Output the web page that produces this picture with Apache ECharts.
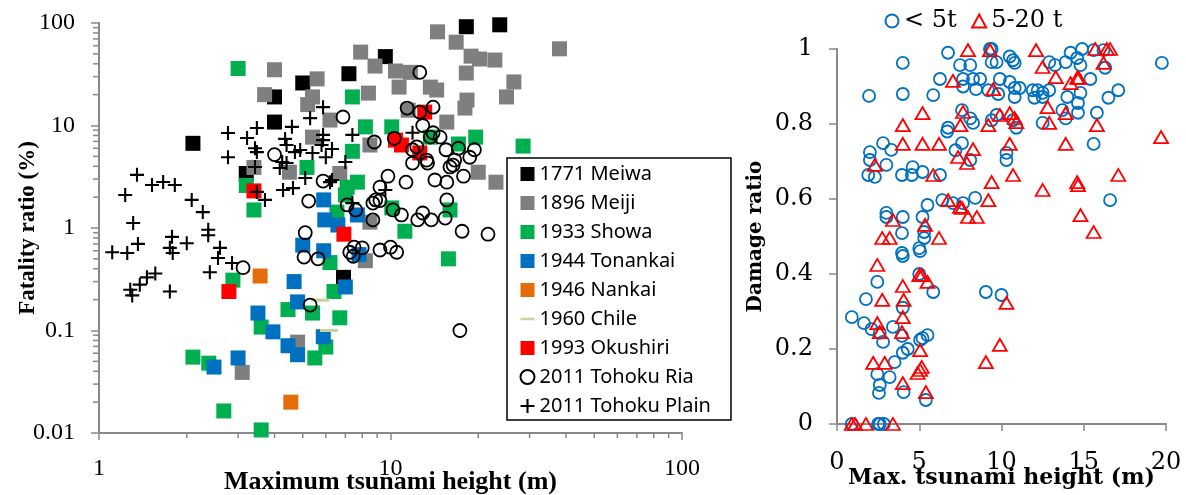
<!DOCTYPE html>
<html>
<head>
<meta charset="utf-8">
<script src="https://cdn.jsdelivr.net/npm/echarts@6/dist/echarts.min.js"></script>
<style>
  html, body { margin: 0; padding: 0; background: #fff; }
  #chart { width: 1186px; height: 495px; }
</style>
</head>
<body>
<div id="chart"></div>
<script>
// left panel: [max tsunami height (m), fatality ratio (%)]
const meiwa = [[2.1, 6.7], [3.2, 3.4], [4.0, 19], [4.0, 10.8], [5.0, 26], [7.2, 32], [9.6, 47], [18.2, 92], [23.7, 96], [6.9, 0.33]]
const meiji = [[3.1, 0.039], [3.4, 3.9], [3.7, 20], [4.0, 35], [4.5, 3.5], [4.8, 0.077], [5.2, 16], [5.4, 19], [5.4, 7.7], [5.6, 28.5],
  [6.2, 11.3], [6.7, 3.4], [7.9, 52], [8.2, 0.48], [8.4, 20.7], [8.5, 6.45], [8.5, 1.14], [8.85, 38], [10.4, 34], [10.7, 23.7],
  [11.5, 14.1], [11.7, 33], [13.7, 23.7], [14.4, 22.2], [14.5, 82], [15.6, 10.8], [16.8, 65], [18, 14.8], [18.2, 32.5], [18.3, 17.7],
  [18.9, 47.5], [20, 3.5], [20.2, 44.5], [22.8, 43.5], [23, 2.8], [25, 19], [26.5, 26.6], [38, 56]]
const showa = [[2.1, 0.055], [2.38, 0.048], [2.68, 0.0164], [2.88, 0.31], [3.0, 36], [3.2, 2.6], [3.4, 1.5], [3.6, 0.108], [3.6, 0.0107],
  [4.45, 0.16], [5.17, 3.9], [5.4, 0.148], [5.5, 0.054], [6.0, 0.069], [6.2, 0.46], [6.4, 0.24], [6.55, 1.43], [6.7, 0.133], [7.0, 2.1],
  [7.1, 2.5], [7.4, 5.6], [7.4, 19], [7.7, 2.8], [8.2, 9.7], [10.1, 9.7], [10.1, 1.57], [11.2, 0.93], [13.7, 7.7], [15.8, 0.5],
  [16, 1.5], [17.1, 6.6], [19.6, 7.7], [28.5, 6.3]]
const tonankai = [[2.48, 0.044], [3.0, 0.054], [3.51, 0.148], [3.95, 0.097], [4.45, 0.071], [4.67, 0.30], [4.8, 0.19], [4.8, 0.058],
  [5.0, 0.68], [5.88, 0.087], [5.9, 0.6], [5.9, 1.88], [5.95, 1.2], [6.6, 1.07], [7.0, 0.266], [7.7, 1.34], [7.8, 0.55]]
const nankai = [[3.57, 0.34], [4.55, 0.02]]
const chile = [[5.74, 0.198], [6.15, 0.1]]
const okushiri = [[2.79, 0.24], [3.4, 2.3], [6.92, 0.87], [10.4, 7.2], [10.9, 6.45], [12.6, 5.4], [13.1, 13.5]]
const tohokuRia = [[3.12, 0.41], [4.0, 5.2], [5.05, 0.52], [5.1, 0.9], [5.24, 1.83], [5.3, 0.177], [5.64, 0.5], [5.87, 2.87], [6.87, 12.1],
  [7.25, 0.58], [7.5, 0.65], [8.0, 0.64], [7.45, 0.53], [7.1, 1.68], [7.6, 1.5], [8.7, 1.2], [8.8, 6.9], [8.7, 1.75], [8.9, 1.88],
  [9.2, 1.85], [9.2, 2.5], [9.2, 0.61], [10, 0.65], [10.5, 0.58], [9.8, 3.2], [10.2, 1.5], [10.3, 7.5], [10.9, 1.34], [11.3, 2.8],
  [11.4, 14.8], [11.9, 4.3], [11.9, 5.8], [12.3, 6.2], [12.4, 1.2], [12.6, 13.5], [12.6, 33], [12.9, 10], [12.9, 1.4], [13.3, 4.6],
  [13.4, 4.3], [13.7, 7.7], [13.8, 1.2], [14, 15.1], [14, 8.5], [14.2, 2.94], [14.8, 7.7], [15.4, 1.25], [15.5, 5.8], [15.6, 2.8],
  [15.6, 1.88], [16, 3.94], [16.4, 4.1], [16.6, 4.6], [17.1, 6.0], [17.3, 0.1], [17.6, 0.93], [17.8, 3.2], [18.7, 4.9], [19.4, 5.8],
  [21.6, 0.87]]
const tohokuPlain = [[1.11, 0.58], [1.23, 2.1], [1.25, 0.57], [1.28, 0.25], [1.3, 0.22], [1.31, 1.12], [1.35, 3.3], [1.36, 0.7], [1.38, 0.28],
  [1.46, 0.33], [1.52, 2.63], [1.56, 0.36], [1.66, 2.81], [1.75, 0.24], [1.75, 0.64], [1.78, 0.82], [1.79, 0.57], [1.82, 2.63], [2.0, 0.71],
  [2.08, 1.88], [2.27, 1.43], [2.37, 0.96], [2.37, 0.85], [2.4, 0.37], [2.56, 0.51], [2.6, 0.64], [2.77, 8.45], [2.77, 4.9], [2.86, 0.455],
  [3.22, 7.55], [3.43, 6.0], [3.48, 9.46], [3.48, 5.5], [3.43, 3.94], [3.48, 2.25], [3.71, 1.88], [4.17, 3.85], [4.25, 4.4], [4.4, 4.3],
  [4.28, 2.35], [4.35, 7.4], [4.4, 6.45], [4.59, 9.7], [4.7, 5.5], [4.63, 2.45], [4.9, 5.76], [5.1, 3.07], [5.3, 11.8], [5.4, 5.4],
  [5.8, 6.45], [5.87, 15.1], [5.87, 8.1], [5.87, 7.2], [6.0, 4.9], [6.2, 2.8], [6.3, 5.9], [6.3, 2.94], [7.0, 4.4], [7.4, 8.1],
  [7.4, 1.75], [9.6, 2.35], [11.9, 8.5]]

// right panel: [max tsunami height (m), damage ratio]
const under5t = [[1.95, 0.875], [4.0, 0.963], [4.0, 0.88], [5.85, 0.877], [6.75, 0.99], [6.26, 0.92], [7.48, 0.957], [8.1, 0.957],
  [7.66, 0.92], [8.27, 0.92], [8.7, 0.92], [7.66, 0.9], [8.45, 0.893], [9.3, 1.0], [9.4, 1.0], [9.4, 0.965], [9.7, 0.965], [9.9, 0.92],
  [9.2, 0.89], [9.8, 0.88], [10.5, 0.98], [10.7, 0.97], [10.8, 0.963], [10.5, 0.912], [10.8, 0.896], [11.1, 0.896], [10.8, 0.872],
  [11.9, 0.89], [12.2, 0.89], [12.5, 0.883], [12.9, 0.89], [12.0, 0.87], [12.5, 0.872], [12.9, 0.965], [13.25, 0.957], [13.9, 0.965],
  [14.2, 0.99], [14.6, 0.976], [14.8, 0.957], [14.9, 1.0], [15.6, 0.997], [16.2, 0.997], [16.3, 0.95], [15.4, 0.92], [14.8, 0.883],
  [14.65, 0.856], [14.65, 0.83], [15.8, 0.83], [16.5, 0.87], [17.1, 0.89], [19.75, 0.963], [13.7, 0.837], [13.9, 0.815], [12.5, 0.803],
  [15.6, 0.747], [16.6, 0.597], [8.27, 0.803], [8.1, 0.815], [7.6, 0.837], [6.75, 0.79], [6.7, 0.78], [7.2, 0.73], [7.6, 0.749],
  [8.1, 0.704], [10.3, 0.723], [10.3, 0.704], [9.4, 0.81], [9.7, 0.824], [10.9, 0.79], [10.7, 0.81], [14.0, 0.872],
  [2.0, 0.725], [2.0, 0.704], [1.9, 0.664], [2.3, 0.659], [2.8, 0.749], [3.3, 0.731], [3.0, 0.691], [3.95, 0.664], [4.55, 0.664],
  [4.6, 0.685], [5.2, 0.672], [6.26, 0.664], [6.4, 0.597], [7.05, 0.589], [7.66, 0.589], [8.4, 0.603], [5.5, 0.584], [3.0, 0.563],
  [3.0, 0.552], [4.0, 0.552], [5.2, 0.552], [3.95, 0.509], [5.3, 0.512], [5.3, 0.496], [3.95, 0.456], [4.0, 0.448], [5.0, 0.469],
  [5.05, 0.461], [5.0, 0.4], [5.85, 0.352], [2.45, 0.379], [1.76, 0.333], [0.9, 0.285], [1.64, 0.269], [2.1, 0.253], [2.6, 0.243],
  [2.8, 0.219], [3.4, 0.259], [3.95, 0.235], [4.0, 0.31], [5.05, 0.224], [5.2, 0.229], [5.5, 0.237], [3.5, 0.165], [4.0, 0.19],
  [4.3, 0.2], [2.45, 0.133], [3.2, 0.125], [2.6, 0.104], [2.55, 0.083], [4.05, 0.085], [5.4, 0.064], [9.05, 0.352], [10.0, 0.344],
  [0.9, 0], [2.5, 0], [2.6, 0], [2.85, 0]]
const from5to20t = [[7.96, 0.997], [9.3, 0.997], [12.1, 0.997], [15.7, 1.0], [16.4, 1.0], [16.6, 1.0], [12.5, 0.952], [16.2, 0.963],
  [13.3, 0.925], [14.2, 0.909], [14.6, 0.923], [14.7, 0.923], [7.05, 0.915], [9.5, 0.893], [12.8, 0.845], [13.9, 0.829], [7.66, 0.832],
  [5.2, 0.829], [9.9, 0.824], [10.5, 0.829], [10.8, 0.816], [10.9, 0.805], [7.5, 0.797], [9.2, 0.797], [4.0, 0.797], [12.9, 0.803],
  [15.8, 0.797], [19.7, 0.765], [4.0, 0.747], [5.2, 0.747], [6.2, 0.747], [10.5, 0.747], [13.9, 0.747], [8.27, 0.733], [7.36, 0.712],
  [7.9, 0.696], [2.3, 0.691], [5.85, 0.664], [10.7, 0.664], [17.1, 0.664], [9.4, 0.645], [14.6, 0.645], [14.65, 0.637], [12.5, 0.624],
  [9.2, 0.597], [6.75, 0.597], [7.48, 0.579], [7.6, 0.576], [7.96, 0.552], [8.5, 0.552], [14.8, 0.557], [15.6, 0.512], [3.4, 0.544],
  [5.35, 0.531], [2.75, 0.496], [3.2, 0.496], [6.2, 0.496], [2.45, 0.424], [4.0, 0.368], [5.0, 0.397], [5.15, 0.397], [5.5, 0.379],
  [2.75, 0.331], [4.05, 0.331], [2.45, 0.269], [2.6, 0.245], [4.0, 0.285], [3.95, 0.245], [5.05, 0.197], [2.2, 0.163], [2.9, 0.163],
  [5.05, 0.144], [5.15, 0.152], [4.9, 0.136], [4.0, 0.109], [5.4, 0.085], [9.05, 0.165], [9.9, 0.211], [10.3, 0.323],
  [0.9, 0], [1.1, 0], [1.76, 0], [3.4, 0]]

// log axis minor tick positions (2..9 in every decade)
const minorSteps = [2, 3, 4, 5, 6, 7, 8, 9]
const yDecades = [0.01, 0.1, 1, 10]
const xDecades = [1, 10]

const axisGray = '#898989'
const plusPath = 'path://M0,8.5H20V11.5H0ZM8.5,0H11.5V20H8.5Z'
const barPath = 'path://M0,0ZM0,8.2H20V11.8H0ZM20,20Z'
const tickPath = 'path://M0,0H10V10H0Z'

const chart = echarts.init(document.getElementById('chart'))

function squareSeries(name, data, color) {
    return {
        name: name,
        type: 'scatter',
        xAxisIndex: 0,
        yAxisIndex: 0,
        symbol: 'rect',
        symbolSize: 15,
        itemStyle: { color: color, opacity: 1 },
        data: data
    }
}

// minor ticks of the log axes, placed through the axis scales
const yMinorData = []
yDecades.forEach(d => minorSteps.forEach(s => yMinorData.push([1, s * d])))
const xMinorData = []
xDecades.forEach(d => minorSteps.forEach(s => xMinorData.push([s * d, 0.01])))

function minorTickSeries(data, size, offset) {
    return {
        type: 'scatter',
        xAxisIndex: 0,
        yAxisIndex: 0,
        silent: true,
        clip: false,
        symbol: tickPath,
        symbolSize: size,
        symbolOffset: offset,
        itemStyle: { color: axisGray, opacity: 1 },
        z: 1,
        data: data
    }
}

const serifL = 'Liberation Serif'
const serifR = 'DejaVu Serif'

const option = {
    animation: false,
    grid: [
        { left: 99, top: 23, width: 583, height: 410, containLabel: false, outerBoundsMode: 'none' },
        { left: 837, top: 49, width: 329, height: 375, containLabel: false, outerBoundsMode: 'none' }
    ],
    legend: [
        {
            orient: 'vertical',
            left: 507,
            top: 158,
            padding: [6, 20, 4, 11],
            itemGap: 9,
            itemWidth: 14,
            itemHeight: 14,
            borderColor: '#000',
            borderWidth: 1.5,
            backgroundColor: '#fff',
            textStyle: { fontFamily: 'Noto Sans', fontSize: 20, color: '#000' },
            data: ['1771 Meiwa', '1896 Meiji', '1933 Showa', '1944 Tonankai', '1946 Nankai',
                '1960 Chile', '1993 Okushiri', '2011 Tohoku Ria', '2011 Tohoku Plain']
        },
        {
            orient: 'horizontal',
            left: 878,
            top: 4,
            itemGap: 13,
            itemWidth: 14,
            itemHeight: 13,
            textStyle: { fontFamily: serifR, fontSize: 24, color: '#000' },
            data: ['< 5t', '5-20 t']
        }
    ],
    xAxis: [
        {
            gridIndex: 0,
            type: 'log',
            logBase: 10,
            min: 1,
            max: 100,
            name: 'Maximum tsunami height (m)',
            nameLocation: 'middle',
            nameGap: 36,
            nameMoveOverlap: false,
            nameTextStyle: { fontFamily: serifL, fontSize: 26, fontWeight: 'bold', color: '#000' },
            axisLine: { show: true, lineStyle: { color: axisGray, width: 2 } },
            axisTick: { show: true, length: 7, lineStyle: { color: axisGray, width: 1.5 } },
            axisLabel: { margin: 24, fontFamily: serifL, fontSize: 24, color: '#000',
                formatter: v => String(+v.toPrecision(1)) },
            splitLine: { show: false }
        },
        {
            gridIndex: 1,
            type: 'value',
            min: 0,
            max: 20,
            interval: 5,
            name: 'Max. tsunami height (m)',
            nameLocation: 'middle',
            nameGap: 43,
            nameMoveOverlap: false,
            nameTextStyle: { fontFamily: serifR, fontSize: 22, fontWeight: 'bold', color: '#000' },
            axisLine: { show: true, lineStyle: { color: axisGray, width: 2 } },
            axisTick: { show: true, length: 7, lineStyle: { color: axisGray, width: 1.5 } },
            axisLabel: { margin: 27, fontFamily: serifR, fontSize: 24, color: '#000' },
            splitLine: { show: false }
        }
    ],
    yAxis: [
        {
            gridIndex: 0,
            type: 'log',
            logBase: 10,
            min: 0.01,
            max: 100,
            name: 'Fatality ratio (%)',
            nameLocation: 'middle',
            nameGap: 59,
            nameMoveOverlap: false,
            nameTextStyle: { fontFamily: serifL, fontSize: 23, fontWeight: 'bold', color: '#000' },
            axisLine: { show: true, lineStyle: { color: axisGray, width: 2 } },
            axisTick: { show: true, length: 8, lineStyle: { color: axisGray, width: 1.5 } },
            axisLabel: { margin: 24, fontFamily: serifL, fontSize: 24, color: '#000',
                formatter: v => String(+v.toPrecision(1)) },
            splitLine: { show: false }
        },
        {
            gridIndex: 1,
            type: 'value',
            min: 0,
            max: 1,
            interval: 0.2,
            name: 'Damage ratio',
            nameLocation: 'middle',
            nameGap: 71,
            nameMoveOverlap: false,
            nameTextStyle: { fontFamily: serifR, fontSize: 20, fontWeight: 'bold', color: '#000' },
            axisLine: { show: true, lineStyle: { color: axisGray, width: 2 } },
            axisTick: { show: true, length: 8, lineStyle: { color: axisGray, width: 1.5 } },
            axisLabel: { margin: 24, fontFamily: serifR, fontSize: 24, color: '#000' },
            splitLine: { show: false }
        }
    ],
    series: [
        minorTickSeries(yMinorData, [6, 1.5], [-3, 0]),
        minorTickSeries(xMinorData, [1.5, 5], [0, 2.5]),
        squareSeries('1771 Meiwa', meiwa, '#000000'),
        squareSeries('1896 Meiji', meiji, '#7f7f7f'),
        squareSeries('1933 Showa', showa, '#00b050'),
        squareSeries('1944 Tonankai', tonankai, '#0070c0'),
        squareSeries('1946 Nankai', nankai, '#e46c0a'),
        {
            name: '1960 Chile',
            type: 'scatter',
            xAxisIndex: 0,
            yAxisIndex: 0,
            symbol: barPath,
            symbolSize: 18,
            itemStyle: { color: '#c3d69b', opacity: 1 },
            data: chile
        },
        squareSeries('1993 Okushiri', okushiri, '#ff0000'),
        {
            name: '2011 Tohoku Ria',
            type: 'scatter',
            xAxisIndex: 0,
            yAxisIndex: 0,
            symbol: 'circle',
            symbolSize: 13,
            itemStyle: { color: 'none', borderColor: '#000', borderWidth: 1.8, opacity: 1 },
            data: tohokuRia
        },
        {
            name: '2011 Tohoku Plain',
            type: 'scatter',
            xAxisIndex: 0,
            yAxisIndex: 0,
            symbol: plusPath,
            symbolSize: 14,
            itemStyle: { color: '#000', opacity: 1 },
            data: tohokuPlain
        },
        {
            name: '< 5t',
            type: 'scatter',
            xAxisIndex: 1,
            yAxisIndex: 1,
            symbol: 'circle',
            symbolSize: 12,
            itemStyle: { color: 'none', borderColor: '#0070c0', borderWidth: 1.8, opacity: 1 },
            data: under5t
        },
        {
            name: '5-20 t',
            type: 'scatter',
            xAxisIndex: 1,
            yAxisIndex: 1,
            symbol: 'triangle',
            symbolSize: [14, 12],
            itemStyle: { color: 'none', borderColor: '#ff0000', borderWidth: 1.8, opacity: 1 },
            data: from5to20t
        }
    ]
}
chart.setOption(option)
</script>
</body>
</html>
